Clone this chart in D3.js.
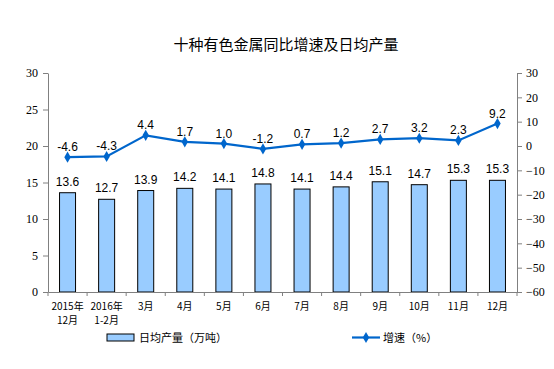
<!DOCTYPE html>
<html><head><meta charset="utf-8">
<script src="https://cdn.jsdelivr.net/npm/d3@7"></script>
<style>body{margin:0;background:#fff}svg{display:block}</style>
</head><body>
<script>
const categories = [["2015年","12月"],["2016年","1-2月"],["3月"],["4月"],["5月"],["6月"],["7月"],["8月"],["9月"],["10月"],["11月"],["12月"]];
const output = [13.6,12.7,13.9,14.2,14.1,14.8,14.1,14.4,15.1,14.7,15.3,15.3];
const growth = [-4.6,-4.3,4.4,1.7,1.0,-1.2,0.7,1.2,2.7,3.2,2.3,9.2];
const leftTicks = [0,5,10,15,20,25,30];
const rightTicks = [-60,-50,-40,-30,-20,-10,0,10,20,30];
const title = "十种有色金属同比增速及日均产量";
const legendBar = "日均产量（万吨）";
const legendLine = "增速（%）";

const W=554,H=369;
const svg=d3.select("body").append("svg").attr("width",W).attr("height",H);
const L=48,R=517,T=73,B=292;
const x=d3.scaleBand().domain(d3.range(categories.length)).range([L,R]);
const yL=d3.scaleLinear().domain([0,30]).range([B,T]);
const yR=d3.scaleLinear().domain([-60,30]).range([B,T]);
const axisColor="#808080";
const serif="'Liberation Serif','Times New Roman',serif";
const cjk="'Noto Sans CJK SC',sans-serif";
const sans="'Liberation Sans',Arial,sans-serif";

svg.append("text").attr("x",286).attr("y",50).attr("text-anchor","middle")
 .style("font-family",cjk).style("font-size","15px").attr("fill","#000").text(title);

// bars
const bw=16;
svg.selectAll("rect.bar").data(output).enter().append("rect")
 .attr("x",(d,i)=>x(i)+x.bandwidth()/2-bw/2).attr("y",d=>yL(d))
 .attr("width",bw).attr("height",d=>B-yL(d))
 .attr("fill","#99CCFF").attr("stroke","#000").attr("stroke-width",1);

// axes
const gl=svg.append("g").attr("transform",`translate(${L},0)`)
 .call(d3.axisLeft(yL).tickValues(leftTicks).tickSize(5).tickSizeOuter(0));
const gr=svg.append("g").attr("transform",`translate(${R},0)`)
 .call(d3.axisRight(yR).tickValues(rightTicks).tickSize(5).tickSizeOuter(0));
const gb=svg.append("g").attr("transform",`translate(0,${B})`)
 .call(d3.axisBottom(x).tickValues([]).tickSizeOuter(0));
[gl,gr,gb].forEach(g=>{
 g.selectAll("path,line").attr("stroke",axisColor);
 g.selectAll("text").style("font-family",serif).style("font-size","12px").attr("fill","#000");
});
gl.selectAll("text").attr("x",-10);
gr.selectAll("text").attr("x",9);
// category separator ticks
const seps=d3.range(categories.length+1).map(i=>L+i*x.step());
svg.selectAll("line.sep").data(seps).enter().append("line")
 .attr("x1",d=>d).attr("x2",d=>d).attr("y1",B).attr("y2",B+4).attr("stroke",axisColor);

// x labels
categories.forEach((c,i)=>{
 const t=svg.append("text").attr("text-anchor","middle")
  .style("font-family",cjk).style("font-size","10px").attr("fill","#000");
 c.forEach((s,j)=>t.append("tspan").attr("x",x(i)+x.bandwidth()/2).attr("y",310+j*14).text(s));
});

// bar labels
svg.selectAll("text.bl").data(output).enter().append("text")
 .attr("x",(d,i)=>x(i)+x.bandwidth()/2).attr("y",d=>yL(d)-7).attr("text-anchor","middle")
 .style("font-family",sans).style("font-size","12px").attr("fill","#000").text(d=>d.toFixed(1));

// line
const lineColor="#0066CC";
const line=d3.line().x((d,i)=>x(i)+x.bandwidth()/2).y(d=>yR(d));
svg.append("path").datum(growth).attr("d",line).attr("fill","none").attr("stroke",lineColor).attr("stroke-width",2.2);
const diamond=d3.symbol().type(d3.symbolDiamond).size(36);
svg.selectAll("path.pt").data(growth).enter().append("path")
 .attr("d",diamond).attr("transform",(d,i)=>`translate(${x(i)+x.bandwidth()/2},${yR(d)})`).attr("fill",lineColor);
svg.selectAll("text.ll").data(growth).enter().append("text")
 .attr("x",(d,i)=>x(i)+x.bandwidth()/2).attr("y",d=>yR(d)-6).attr("text-anchor","middle")
 .style("font-family",sans).style("font-size","12px").attr("fill","#000").text(d=>d.toFixed(1));

// legend
svg.append("rect").attr("x",107).attr("y",334).attr("width",27).attr("height",7)
 .attr("fill","#99CCFF").attr("stroke","#000");
svg.append("text").attr("x",139).attr("y",342).style("font-family",cjk).style("font-size","11px").text(legendBar);
svg.append("line").attr("x1",352).attr("x2",380).attr("y1",337.5).attr("y2",337.5).attr("stroke",lineColor).attr("stroke-width",2.2);
svg.append("path").attr("d",diamond).attr("transform","translate(366,337.5)").attr("fill",lineColor);
svg.append("text").attr("x",383).attr("y",342).style("font-family",cjk).style("font-size","11px").text(legendLine);
</script>
</body></html>
